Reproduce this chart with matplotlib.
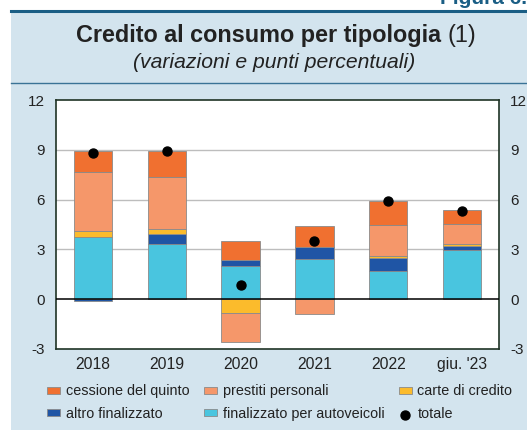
import numpy as np
import matplotlib.pyplot as plt
from matplotlib.patches import Rectangle
from matplotlib.lines import Line2D

plt.rcParams["font.family"] = ["Liberation Sans", "DejaVu Sans"]
plt.rcParams["axes.unicode_minus"] = False

# Dati (variazioni e punti percentuali)
anni = ["2018", "2019", "2020", "2021", "2022", "giu. '23"]
autoveicoli = [3.73, 3.35, 2.02, 2.45, 1.72, 2.95]
altro_finalizzato = [-0.08, 0.58, 0.33, 0.68, 0.75, 0.26]
carte_credito = [0.40, 0.32, -0.84, 0.0, 0.12, 0.12]
prestiti_personali = [3.56, 3.10, -1.75, -0.90, 1.87, 1.19]
cessione_quinto = [1.22, 1.56, 1.14, 1.27, 1.44, 0.84]
totale = [8.83, 8.93, 0.88, 3.49, 5.90, 5.34]

serie = [
    ("finalizzato per autoveicoli", autoveicoli, "#49c5df"),
    ("altro finalizzato", altro_finalizzato, "#1f55a5"),
    ("carte di credito", carte_credito, "#fbbb2c"),
    ("prestiti personali", prestiti_personali, "#f5976a"),
    ("cessione del quinto", cessione_quinto, "#f07030"),
]

sfondo = "#d3e4ee"
blu = "#1a5e85"
testo = "#222222"

fig = plt.figure(figsize=(5.27, 4.30), dpi=100)
W, H = 527, 430

# sfondo azzurro e linee del riquadro
fig.add_artist(Rectangle((11 / W, 0), 1 - 11 / W, 1 - 11 / H, transform=fig.transFigure,
                         facecolor=sfondo, edgecolor="none", zorder=0))
fig.add_artist(Line2D([11 / W, 1], [1 - 11 / H, 1 - 11 / H], transform=fig.transFigure,
                      color=blu, lw=2.2))
fig.add_artist(Line2D([11 / W, 1], [1 - 83 / H, 1 - 83 / H], transform=fig.transFigure,
                      color="#3a7396", lw=1.0))
fig.text(440 / W, 1 - 4 / H, "Figura 6.3", ha="left", va="baseline", fontsize=15,
         fontweight="bold", color=blu)

# titolo
t1 = fig.text(0, 1 - 42 / H, "Credito al consumo per tipologia ", ha="left", va="baseline",
              fontsize=16.8, fontweight="bold", color=testo)
t2 = fig.text(0, 1 - 42 / H, "(1)", ha="left", va="baseline", fontsize=16.8, color=testo)
r = fig.canvas.get_renderer()
w1 = t1.get_window_extent(r).width
w2 = t2.get_window_extent(r).width
x0 = 276 - (w1 + w2) / 2
t1.set_x(x0 / W)
t2.set_x((x0 + w1) / W)
fig.text(274.5 / W, 1 - 68 / H, "(variazioni e punti percentuali)", ha="center", va="baseline",
         fontsize=15.2, style="italic", color=testo)

ax = fig.add_axes([56 / W, (H - 349) / H, (499 - 56) / W, (349 - 100) / H])
ax.set_facecolor("white")

x = np.arange(len(anni))
pos = np.zeros(len(anni))
neg = np.zeros(len(anni))
for nome, valori, colore in serie:
    v = np.array(valori)
    base = np.where(v >= 0, pos, neg)
    ax.bar(x, v, 0.52, bottom=base, color=colore, edgecolor="#8a8a8a", linewidth=0.6,
           label=nome, zorder=3)
    pos = pos + np.where(v > 0, v, 0)
    neg = neg + np.where(v < 0, v, 0)

ax.scatter(x, totale, s=42, color="black", zorder=5, label="totale")

ax.set_xlim(-0.5, 5.5)
ax.set_ylim(-3, 12)
ax.set_yticks([-3, 0, 3, 6, 9, 12])
ax.set_xticks(x)
ax.set_xticklabels(anni)
ax.tick_params(length=0, colors=testo)
ax.tick_params(axis="x", labelsize=11.3, pad=6)
ax.tick_params(axis="y", labelsize=11, labelright=True, pad=8)
for y in [3, 6, 9]:
    ax.axhline(y, color="#bdbdbd", lw=1, zorder=1)
ax.axhline(0, color="black", lw=1.1, zorder=4)
for s in ax.spines.values():
    s.set_color("#1f3325")
    s.set_linewidth(1.2)

# legenda
h, l = ax.get_legend_handles_labels()
ordine = ["cessione del quinto", "altro finalizzato", "prestiti personali",
          "finalizzato per autoveicoli", "carte di credito", "totale"]
mappa = dict(zip(l, h))
fig.legend([mappa[k] for k in ordine], ordine, ncol=3, loc="lower left",
           bbox_to_anchor=(47 / W, 9 / H), frameon=False, fontsize=10.4,
           borderpad=0, borderaxespad=0,
           handlelength=0.9, handleheight=0.4, handletextpad=0.4,
           columnspacing=1.0, labelspacing=0.6, labelcolor=testo)

fig.savefig("out.png", dpi=100, facecolor="white")
